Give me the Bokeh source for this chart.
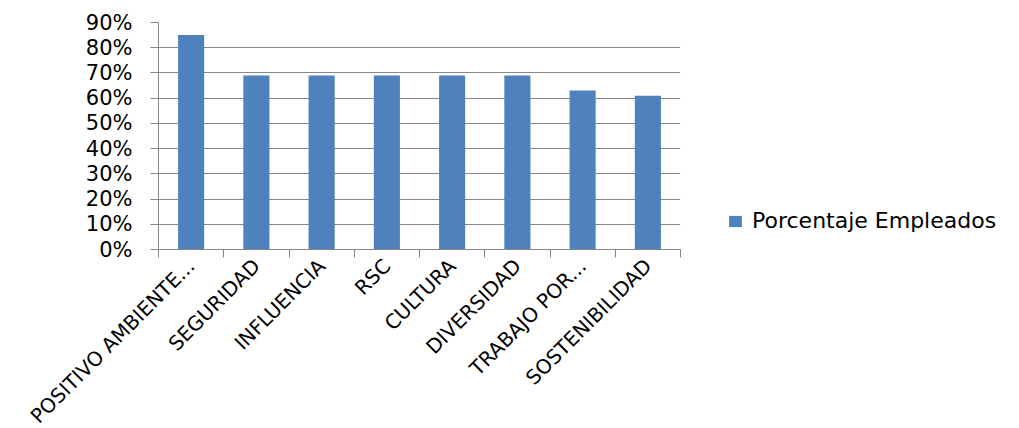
import numpy as np
from bokeh.plotting import figure
from bokeh.models import FixedTicker, NumeralTickFormatter, Range1d, Legend, LegendItem
from bokeh.embed import file_html
from bokeh.resources import INLINE

# Data
categories = ["POSITIVO AMBIENTE...", "SEGURIDAD", "INFLUENCIA", "RSC",
              "CULTURA", "DIVERSIDAD", "TRABAJO POR...", "SOSTENIBILIDAD"]
porcentaje_empleados = [0.85, 0.69, 0.69, 0.69, 0.69, 0.69, 0.63, 0.61]
y_ticks = [0.0, 0.1, 0.2, 0.3, 0.4, 0.5, 0.6, 0.7, 0.8, 0.9]
series_name = "Porcentaje Empleados"

FONT = "DejaVu Sans"
GRID = "#868686"
BAR = "#4F81BD"

n = len(categories)
centers = [i + 0.5 for i in range(n)]
bounds = list(range(n + 1))

p = figure(frame_width=522, frame_height=227,
           x_range=Range1d(0, n), y_range=Range1d(0, y_ticks[-1]),
           output_backend="svg", toolbar_location=None,
           min_border_left=158, min_border_right=339,
           min_border_top=22, min_border_bottom=179)
p.outline_line_color = None
p.background_fill_color = "white"
p.border_fill_color = "white"

bars = p.vbar(x=centers, top=porcentaje_empleados, width=0.4,
              fill_color=BAR, line_color=None)

# y axis: percentages with outward ticks
p.yaxis.ticker = FixedTicker(ticks=y_ticks)
p.yaxis.formatter = NumeralTickFormatter(format="0%")
p.yaxis.axis_line_color = GRID
p.yaxis.major_tick_line_color = GRID
p.yaxis.major_tick_in = 0
p.yaxis.major_tick_out = 8
p.yaxis.minor_tick_line_color = None
p.yaxis.major_label_standoff = 18
p.yaxis.major_label_text_font = FONT
p.yaxis.major_label_text_font_size = "21px"
p.yaxis.major_label_text_color = "black"

# x axis: tick marks between categories, labels at centres
p.xaxis.ticker = FixedTicker(ticks=centers, minor_ticks=bounds)
p.xaxis.major_label_overrides = {c: name for c, name in zip(centers, categories)}
p.xaxis.major_label_orientation = np.pi / 4
p.xaxis.major_tick_line_color = None
p.xaxis.major_tick_in = 0
p.xaxis.major_tick_out = 8
p.xaxis.minor_tick_line_color = GRID
p.xaxis.minor_tick_in = 0
p.xaxis.minor_tick_out = 8
p.xaxis.axis_line_color = GRID
p.xaxis.major_label_standoff = 5
p.xaxis.major_label_text_font = FONT
p.xaxis.major_label_text_font_size = "20px"
p.xaxis.major_label_text_color = "black"

p.xgrid.visible = False
p.ygrid.ticker = FixedTicker(ticks=y_ticks)
p.ygrid.grid_line_color = GRID
p.ygrid.grid_line_width = 1

# legend in the panel to the right of the plot area
legend = Legend(items=[LegendItem(label=series_name, renderers=[bars])],
                location=(47, 16), orientation="vertical",
                border_line_color=None, background_fill_alpha=0,
                padding=0, margin=0, spacing=0,
                glyph_width=16, glyph_height=14, label_standoff=9,
                label_height=14,
                label_text_font=FONT, label_text_font_size="22px",
                label_text_color="black")
p.add_layout(legend, "right")

open("out.html", "w").write(file_html(p, INLINE))
